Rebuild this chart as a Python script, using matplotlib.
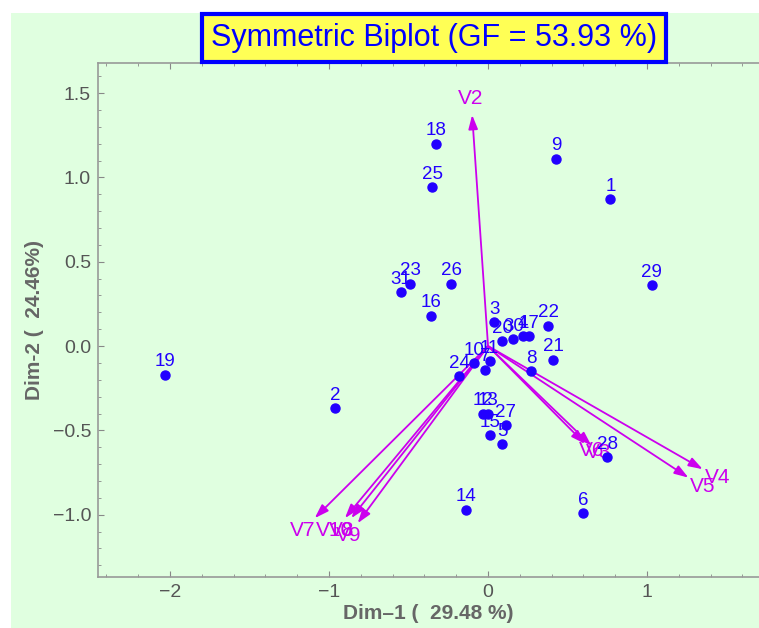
import matplotlib.pyplot as plt
from matplotlib.patches import Rectangle

plt.rcParams['font.family'] = ['Liberation Sans', 'DejaVu Sans']

# row points (genotypes)
pt_labels = [str(i) for i in range(1, 32)]
pt_x = [0.77, -0.96, 0.04, 0.22, 0.09, 0.60, -0.02, 0.27, 0.43, -0.09,
        0.01, -0.03, 0.00, -0.14, 0.01, -0.36, 0.26, -0.33, -2.03, 0.09,
        0.41, 0.38, -0.49, -0.18, -0.35, -0.23, 0.11, 0.75, 1.03, 0.16, -0.55]
pt_y = [0.87, -0.37, 0.14, 0.06, -0.58, -0.99, -0.14, -0.15, 1.11, -0.10,
        -0.09, -0.40, -0.40, -0.97, -0.53, 0.18, 0.06, 1.20, -0.17, 0.03,
        -0.08, 0.12, 0.37, -0.18, 0.94, 0.37, -0.47, -0.66, 0.36, 0.04, 0.32]

# column vectors (variables)
var_labels = ['V2', 'V3', 'V4', 'V5', 'V6', 'V7', 'V8', 'V9', 'V10']
var_x = [-0.10, 0.65, 1.35, 1.26, 0.61, -1.09, -0.86, -0.82, -0.90]
var_y = [1.37, -0.59, -0.73, -0.78, -0.58, -1.02, -1.02, -1.05, -1.02]

green = '#e0ffe0'
blue = '#2200ff'
mag = '#cc00ee'
gray = '#666666'

fig = plt.figure(figsize=(7.59, 6.28), dpi=100)
fig.patch.set_facecolor('white')
fig.patches.append(Rectangle((11 / 759, 0), 1, 1 - 13 / 628, transform=fig.transFigure,
                             facecolor=green, edgecolor='none', zorder=-10))

ax = fig.add_axes([98 / 759, 1 - 577 / 628, 1 - 98 / 759, (577 - 63) / 628])
ax.set_facecolor(green)
ax.set_xlim(-2.453, 1.704)
ax.set_ylim(-1.369, 1.678)

for s in ['left', 'bottom', 'top']:
    ax.spines[s].set_color('#999999')
    ax.spines[s].set_linewidth(1.2)
ax.spines['right'].set_visible(False)

ax.set_xticks([-2, -1, 0, 1])
ax.set_xticklabels(['\u22122', '\u22121', '0', '1'])
ax.set_xticks([i / 5 for i in range(-12, 9)], minor=True)
ax.set_yticks([-1.0, -0.5, 0.0, 0.5, 1.0, 1.5])
ax.set_yticklabels(['\u22121.0', '\u22120.5', '0.0', '0.5', '1.0', '1.5'])
ax.set_yticks([i / 10 for i in range(-13, 17)], minor=True)
ax.tick_params(which='both', direction='in', colors='#888888', top=True,
               labelcolor='#555555', labelsize=14)
ax.tick_params(which='major', length=4, pad=5)
ax.tick_params(which='minor', length=2)

ax.set_xlabel('Dim\u20131 (  29.48 %)', fontsize=15, fontweight='bold', color=gray, labelpad=2)
ax.set_ylabel('Dim-2 (  24.46%)', fontsize=15, fontweight='bold', color=gray, labelpad=6)

# variable arrows
for lab, vx, vy in zip(var_labels, var_x, var_y):
    ax.annotate('', xy=(vx, vy), xytext=(0, 0),
                arrowprops=dict(arrowstyle='-|>,head_length=0.6,head_width=0.2', color=mag,
                                lw=1.3, mutation_scale=14, shrinkA=0, shrinkB=0))
    ax.text(vx * 1.07, vy * 1.07, lab, color=mag, fontsize=15,
            ha='center', va='center')

# points
ax.plot(pt_x, pt_y, 'o', color=blue, markersize=6.5, linestyle='none', zorder=3)
for lab, px, py in zip(pt_labels, pt_x, pt_y):
    ax.annotate(lab, (px, py), xytext=(0, 6), textcoords='offset points',
                ha='center', va='baseline', color=blue, fontsize=13.5, zorder=4)

fig.text(434 / 759, 1 - 38 / 628, 'Symmetric Biplot (GF = 53.93 %)', fontsize=22,
         color='#0000ff', ha='center', va='center',
         bbox=dict(boxstyle='square,pad=0.3', facecolor='#ffff55',
                   edgecolor='#0000ff', linewidth=3))

fig.savefig('out.png', dpi=100)
